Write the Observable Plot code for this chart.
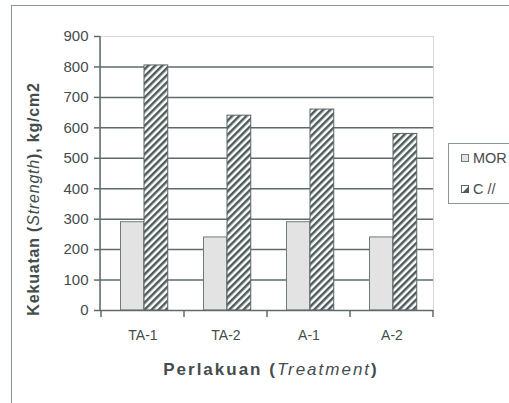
<!DOCTYPE html>
<html><head><meta charset="utf-8">
<script src="https://cdn.jsdelivr.net/npm/d3@7"></script>
<script src="https://cdn.jsdelivr.net/npm/@observablehq/plot@0.6"></script>
<style>
html,body{margin:0;padding:0;background:#fff;overflow:hidden}
#wrap{position:relative;width:509px;height:403px;font-family:"Liberation Sans",Arial,sans-serif;overflow:hidden}
#border{position:absolute;left:11px;top:5px;width:700px;height:600px;border-left:1.5px solid #8c9696;border-top:1.5px solid #8c9696;box-sizing:border-box}
#chart{position:absolute;left:0;top:0}
#legend{position:absolute;left:448px;top:143px;width:120px;height:61px;border:1px solid #8c9696;box-sizing:border-box;background:#fff;font-size:14.5px;color:#4a4a4a}
.row{position:absolute;left:12px;display:flex;align-items:center;white-space:nowrap}
.row svg{margin-right:3px}
</style>
</head><body>
<div id="wrap"><div id="border"></div><div id="chart"></div><div id="legend"></div></div>
<script>
const categories = ["TA-1", "TA-2", "A-1", "A-2"];
const seriesNames = ["MOR", "C //"];
const morValues = [290, 240, 290, 240];
const cValues = [805, 640, 660, 580];
const yTicks = [0, 100, 200, 300, 400, 500, 600, 700, 800, 900];

const morData = categories.map((c, i) => ({cat: c, value: morValues[i]}));
const cData = categories.map((c, i) => ({cat: c, value: cValues[i]}));

const dark = "#5f6b6b";
const textColor = "#454c4c";

const chart = Plot.plot({
  width: 509, height: 403,
  marginLeft: 100, marginRight: 76, marginTop: 36, marginBottom: 93,
  style: {fontFamily: "'Liberation Sans', Arial, sans-serif", fontSize: "14px", color: textColor, background: "transparent", overflow: "visible"},
  x: {domain: categories, padding: 0, label: null},
  y: {domain: [0, 900], label: null},
  marks: [
    Plot.frame({stroke: "#d8d8d8"}),
    Plot.ruleY(yTicks.filter(v => v > 0 && v < 900), {stroke: dark, strokeWidth: 1.5}),
    Plot.barY(morData, {x: "cat", y: "value", fill: "#e3e3e3", stroke: "#6f7a7a", strokeWidth: 1, insetLeft: 19.5, insetRight: 40.25}),
    Plot.barY(cData, {x: "cat", y: "value", fill: "url(#hatch)", stroke: "#5a6666", strokeWidth: 1, insetLeft: 43, insetRight: 16.25}),
    Plot.ruleY([0], {stroke: dark, strokeWidth: 1.5}),
    Plot.axisY({ticks: yTicks, tickSize: 6, tickPadding: 6, stroke: dark, strokeWidth: 1.5, fontSize: 15, letterSpacing: 1.5, label: null, fill: textColor}),
    Plot.axisX({tickSize: 0, tickPadding: 20, fontSize: 14, letterSpacing: 0.4, label: null, fill: textColor})
  ]
});
document.getElementById("chart").appendChild(chart);

const svg = d3.select(chart);
const defs = svg.insert("defs", ":first-child");
const pat = defs.append("pattern").attr("id", "hatch").attr("patternUnits", "userSpaceOnUse")
  .attr("width", 5).attr("height", 5).attr("patternTransform", "rotate(45)");
pat.append("rect").attr("width", 5).attr("height", 5).attr("fill", "#fff");
pat.append("rect").attr("width", 2.5).attr("height", 5).attr("fill", "#4f5b5b");

const xs = chart.scale("x"), ys = chart.scale("y");
const y0 = ys.apply(0), y900 = ys.apply(900);
const x0 = xs.range[0], x1 = xs.range[1];
// left axis line
svg.append("line").attr("x1", x0).attr("x2", x0).attr("y1", y900).attr("y2", y0 + 0.75)
  .attr("stroke", dark).attr("stroke-width", 1.5);
// category boundary ticks
const bounds = categories.map(c => xs.apply(c)).concat([x1]);
svg.append("g").selectAll("line").data(bounds).join("line")
  .attr("x1", d => d).attr("x2", d => d).attr("y1", y0).attr("y2", y0 + 7)
  .attr("stroke", dark).attr("stroke-width", 1.5);

// axis titles
const tx = svg.append("text").attr("x", 271).attr("y", 375).attr("text-anchor", "middle")
  .attr("font-size", 17).attr("font-weight", "bold").attr("letter-spacing", 2).attr("fill", textColor);
tx.append("tspan").text("Perlakuan (");
tx.append("tspan").attr("font-style", "italic").attr("font-weight", "normal").text("Treatment");
tx.append("tspan").text(")");

const ty = svg.append("text").attr("transform", "translate(39,199) rotate(-90)").attr("text-anchor", "middle")
  .attr("font-size", 16).attr("font-weight", "bold").attr("letter-spacing", 0.8).attr("fill", textColor);
ty.append("tspan").text("Kekuatan (");
ty.append("tspan").attr("font-style", "italic").attr("font-weight", "normal").text("Strength");
ty.append("tspan").text("), kg/cm2");

// legend
const legend = d3.select("#legend");
seriesNames.forEach((name, i) => {
  const row = legend.append("div").attr("class", "row").style("top", (i === 0 ? 6 : 37) + "px");
  const sw = row.append("svg").attr("width", 9).attr("height", 9);
  if (i === 0) {
    sw.append("rect").attr("x", 0.5).attr("y", 0.5).attr("width", 7).attr("height", 7).attr("fill", "#e3e3e3").attr("stroke", "#6f7a7a");
  } else {
    sw.append("rect").attr("x", 0.5).attr("y", 0.5).attr("width", 7).attr("height", 7).attr("fill", "#fff").attr("stroke", "#5a6666");
    sw.append("path").attr("d", "M8,1 L8,8 L1,8 Z").attr("fill", "#4f5b5b");
  }
  row.append("span").text(name);
});
</script>
</body></html>
